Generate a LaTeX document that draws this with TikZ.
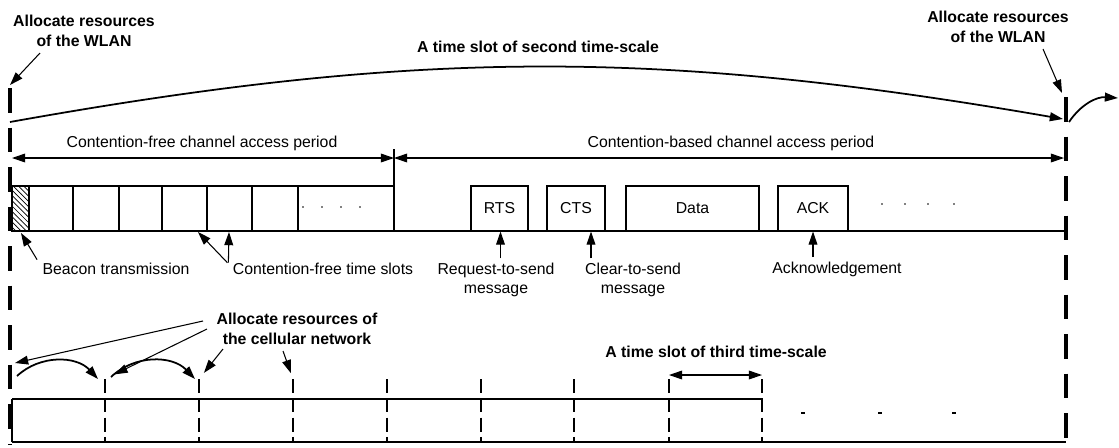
\documentclass[tikz,border=0pt]{standalone}
\usepackage{fontspec}
\setmainfont{Liberation Sans}
\usetikzlibrary{arrows.meta, patterns}

\tikzset{
    lbl/.style = {font=\fontsize{9}{11}\selectfont, align=center, inner sep=0pt},
    boldlbl/.style = {lbl, font=\fontsize{9}{11}\selectfont\bfseries},
    bound/.style = {line width=2pt, dash pattern=on 14pt off 8.5pt},
    tick/.style = {line width=0.8pt, dash pattern=on 8pt off 3pt},
    pointer/.style = {-{Triangle[length=7.5pt,width=5pt]}},
    span/.style = {{Triangle[length=7.5pt,width=5pt]}-{Triangle[length=7.5pt,width=5pt]}},
    slot/.style = {draw, lbl, minimum height=0.9cm}
}

\begin{document}
\begin{tikzpicture}[x=0.02cm, y=-0.02cm, line width=0.6pt]
    \useasboundingbox (0,0) rectangle (1119,447);

    % WLAN boundaries (second time-scale)
    \coordinate (wl top) at (10,88);
    \coordinate (wr top) at (1066,97);
    \draw[bound] (wl top) -- (10,445);
    \draw[bound] (wr top) -- (1066,447);

    \coordinate (arc start) at (10,122);
    \coordinate (arc end) at (1063,119);
    \coordinate (wr mid) at (1069,122);
    \coordinate (next) at (1118,98);
    \draw[pointer, line width=1pt] (arc start) to[bend left=10] (arc end);
    \draw[pointer, line width=1pt] (wr mid) to[bend left=30] (next);
    \node[boldlbl] (second) at (538,47) {A time slot of second time-scale};

    \node[boldlbl] (wlan l) at (84,31) {Allocate resources\\of the WLAN};
    \node[boldlbl] (wlan r) at (998,27) {Allocate resources\\of the WLAN};
    \coordinate (wlan l tail) at (40,53);
    \coordinate (wlan r tail) at (1043,49);
    \coordinate (wr tip) at (1062,93);
    \draw[pointer] (wlan l tail) -- ([yshift=0.06cm]wl top);
    \draw[pointer] (wlan r tail) -- (wr tip);

    % access periods
    \coordinate (cf start) at (12,158);
    \coordinate (cf end) at (394,158);
    \coordinate (cb end) at (1064,158);
    \draw[span] (cf start) -- (cf end);
    \draw[span] (cf end) -- (cb end);
    \draw (394,149) -- (394,231);
    \node[lbl] (cfp) at (202,143) {Contention-free channel access period};
    \node[lbl] (cbp) at (731,143) {Contention-based channel access period};

    % contention-free slots
    \fill[pattern=north west lines] (12,186) rectangle (29,231);
    \draw (12,186) rectangle (394,231);
    \foreach \x in {29,73,119,162,207,252,298}
        \draw (\x,186) -- (\x,231);
    \foreach \x in {303,322,341,360}
        \fill (\x,207) circle (0.5pt);
    \draw (12,231) -- (1066,231);

    % contention-based messages
    \node[slot, minimum width=1.14cm] (rts) at (499.5,208.5) {RTS};
    \node[slot, minimum width=1.16cm] (cts) at (576,208.5) {CTS};
    \node[slot, minimum width=2.66cm] (data) at (692.5,208.5) {Data};
    \node[slot, minimum width=1.4cm] (ack) at (813,208.5) {ACK};
    \foreach \x in {882,905,928,954}
        \fill (\x,204) circle (0.5pt);

    % notes under the frame
    \node[lbl] (beacon note) at (116,269) {Beacon transmission};
    \node[lbl] (slots note) at (323,269) {Contention-free time slots};
    \node[lbl] (rts note) at (496,280) {Request-to-send\\message};
    \node[lbl] (cts note) at (633,280) {Clear-to-send\\message};
    \node[lbl] (ack note) at (837,269) {Acknowledgement};
    \coordinate (beacon) at (21,233);
    \coordinate (slot a) at (198,232);
    \coordinate (slot b) at (229,232);
    \draw[pointer] ([shift={(-0.1cm,0.06cm)}]beacon note.north west) -- (beacon);
    \draw[pointer] ([shift={(-0.1cm,0cm)}]slots note.north west) -- (slot a);
    \draw[pointer] ([shift={(-0.08cm,0cm)}]slots note.north west) -- (slot b);
    \draw[pointer] (rts note.north -| rts.south) ++(0.02cm,0.08cm) -- ([xshift=0.02cm]rts.south);
    \draw[pointer] ([xshift=0.3cm]cts.south |- cts note.north) ++(0,0.08cm) -- ([xshift=0.3cm]cts.south);
    \draw[pointer] (ack note.north -| ack.south) ++(0,0.08cm) -- (ack.south);

    % cellular network (third time-scale)
    \draw (12,399) -- (762,399);
    \draw (12,399) -- (12,442);
    \draw (12,442) -- (1066,442);
    \foreach \x [count=\i] in {105,199,293,387,481,574,669,762} {
        \coordinate (t\i) at (\x,379);
        \draw[tick] (t\i) -- (\x,442);
    }
    \foreach \x in {803,880,954}
        \draw[line width=1.2pt] (\x-2,413) -- (\x+2,413);

    \node[boldlbl] (cell note) at (297,329) {Allocate resources of\\the cellular network};
    \coordinate (cell tail a) at (203,321);
    \coordinate (cell tail b) at (207,329);
    \coordinate (cell tail c) at (223,349);
    \coordinate (cell tail d) at (283,351);
    \coordinate (cell tip a) at (15,363);
    \draw[pointer] (cell tail a) -- (cell tip a);
    \draw[pointer, shorten >=6pt] (cell tail b) -- (t1);
    \draw[pointer, shorten >=4.5pt] (cell tail c) -- (t2);
    \draw[pointer, shorten >=3.5pt] (cell tail d) -- (t3);

    \coordinate (hop a) at (17,376);
    \coordinate (hop b) at (111,377);
    \draw[pointer, line width=1pt] (hop a) to[bend left=45] ([xshift=-0.14cm]t1);
    \draw[pointer, line width=1pt] (hop b) to[bend left=45] ([xshift=-0.08cm]t2);

    \coordinate (third a) at (669,375);
    \coordinate (third b) at (762,375);
    \draw[span] (third a) -- (third b);
    \node[boldlbl] (third note) at (716,352) {A time slot of third time-scale};
\end{tikzpicture}
\end{document}
